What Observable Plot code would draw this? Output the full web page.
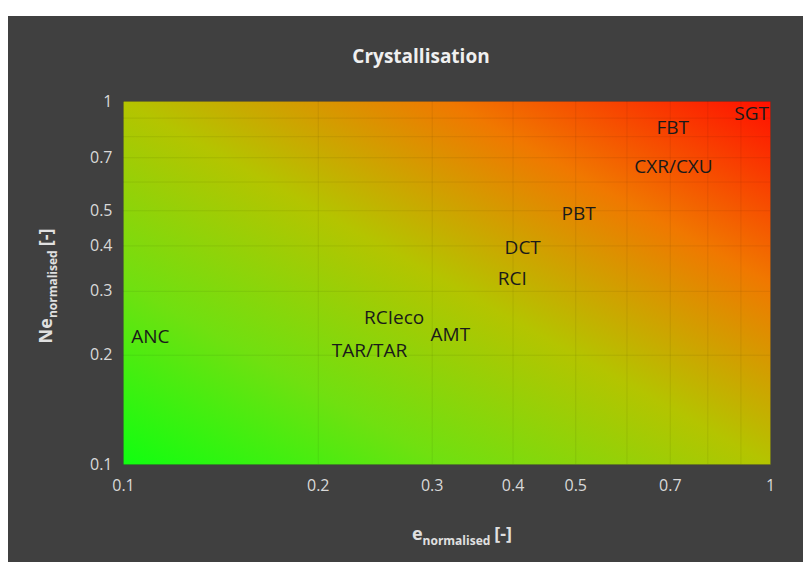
<!DOCTYPE html>
<html><head><meta charset="utf-8">
<script src="https://cdn.jsdelivr.net/npm/d3@7"></script>
<script src="https://cdn.jsdelivr.net/npm/@observablehq/plot@0.6"></script>
<style>
body{margin:0;background:#fff;}
#chart{position:absolute;left:8px;top:16px;}
#chart svg{display:block;background:#404040;}
</style></head><body><div id="chart"></div>
<script>
const title = "Crystallisation";
const labels = ["ANC","TAR/TAR","RCIeco","AMT","RCI","DCT","PBT","CXR/CXU","FBT","SGT"];
const eNorm  = [0.110,0.240,0.262,0.320,0.399,0.414,0.505,0.708,0.706,0.935];
const neNorm = [0.225,0.205,0.253,0.228,0.325,0.394,0.491,0.662,0.848,0.927];
const tickValues = [0.1,0.2,0.3,0.4,0.5,0.7,1];
const gridValues = [0.1,0.2,0.3,0.4,0.5,0.6,0.7,0.8,0.9,1];
const gradStops = ["#10ff10","#70e010","#b4c400","#f07800","#ff1000"];

const points = labels.map((l,i)=>({label:l, e:eNorm[i], ne:neNorm[i]}));
const font = "'Open Sans', 'DejaVu Sans', sans-serif";

const W = 795, H = 546;
const chart = Plot.plot({
  width: W, height: H,
  marginLeft: 115, marginRight: 33, marginTop: 85, marginBottom: 98,
  style: {fontFamily: font, background: "#404040"},
  x: {type: "log", domain: [0.1, 1], label: null},
  y: {type: "log", domain: [0.1, 1], label: null},
  marks: [
    Plot.frame({fill: "url(#bgGrad)", stroke: null}),
    Plot.ruleX(gridValues, {stroke: "#000", strokeOpacity: 0.07}),
    Plot.ruleY(gridValues, {stroke: "#000", strokeOpacity: 0.07}),
    Plot.axisX({ticks: tickValues, tickFormat: d => String(d), tickSize: 0, tickPadding: 15, fill: "#d9d9d9", fontSize: 16, label: null}),
    Plot.axisY({ticks: tickValues, tickFormat: d => String(d), tickSize: 0, tickPadding: 11, fill: "#d9d9d9", fontSize: 16, label: null}),
    Plot.text(points, {x: "e", y: "ne", text: "label", fontSize: 19, fill: "#1a1a1a", fontFamily: font}),
    Plot.text([title], {frameAnchor: "top", dy: -52, dx: -26, fontSize: 19, fontWeight: "bold", fill: "#f0f0f0"})
  ]
});
document.getElementById("chart").appendChild(chart);

const svg = d3.select(chart);
const defs = svg.insert("defs", ":first-child");
const g = defs.append("linearGradient").attr("id", "bgGrad")
  .attr("x1", 0).attr("y1", 1).attr("x2", 1).attr("y2", 0);
gradStops.forEach((c, i) => g.append("stop").attr("offset", i/(gradStops.length-1)).attr("stop-color", c));

// x axis title
const xt = svg.append("text").attr("x", 454).attr("y", 524).attr("text-anchor", "middle")
  .attr("fill", "#e0e0e0").style("font-family", font);
xt.append("tspan").attr("font-size", 18).attr("font-weight", "bold").text("e");
xt.append("tspan").attr("font-size", 12).attr("font-weight", "bold").attr("dy", 5).text("normalised");
xt.append("tspan").attr("font-size", 18).attr("font-weight", "bold").attr("dy", -5).attr("dx", 4).text("[-]");

// y axis title
const yt = svg.append("text").attr("transform", "translate(44,270) rotate(-90)").attr("text-anchor", "middle")
  .attr("fill", "#e0e0e0").style("font-family", font);
yt.append("tspan").attr("font-size", 18).attr("font-weight", "bold").text("Ne");
yt.append("tspan").attr("font-size", 12).attr("font-weight", "bold").attr("dy", 5).text("normalised");
yt.append("tspan").attr("font-size", 18).attr("font-weight", "bold").attr("dy", -5).attr("dx", 4).text("[-]");
</script></body></html>
